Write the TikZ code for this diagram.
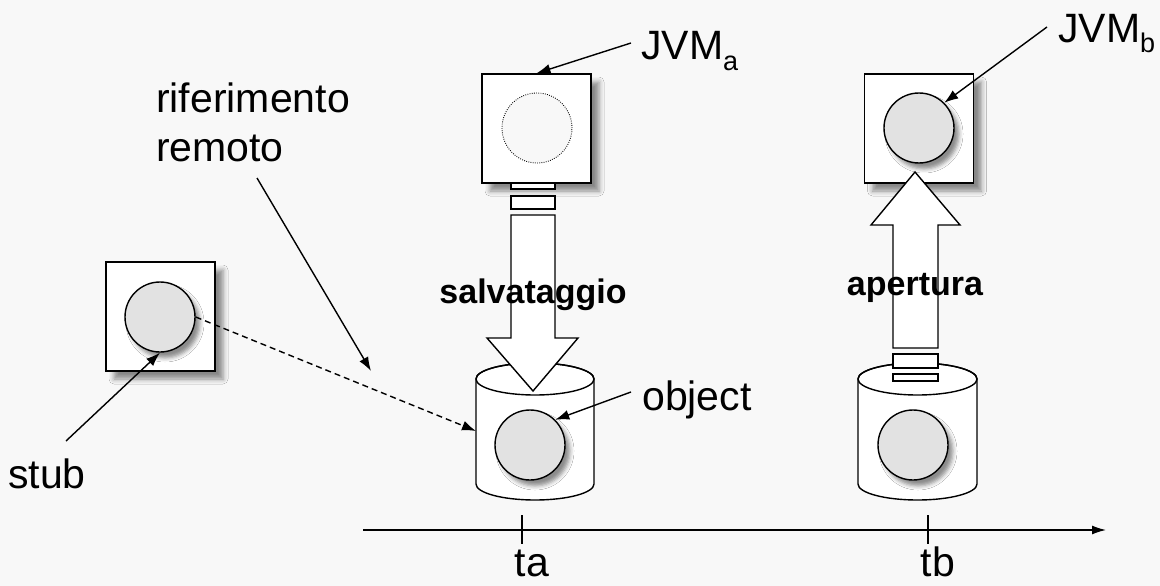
\documentclass[tikz,border=0pt]{standalone}
\usepackage{fontspec}
\setmainfont{Liberation Sans}
\usetikzlibrary{arrows.meta,shadows.blur}
\definecolor{bgcol}{HTML}{F8F8F8}
\definecolor{objfill}{HTML}{E2E2E2}
\newcommand\lblfont{\fontsize{41}{49}\selectfont}
\newcommand\boldlblfont{\fontsize{34}{40}\selectfont\bfseries}
\newcommand\subfont{\fontsize{27}{30}\selectfont}
\tikzset{
  line/.style={line width=1.4pt},
  vmbox/.style={line, draw=black, fill=white, minimum size=109pt, inner sep=0pt,
    blur shadow={shadow xshift=8pt, shadow yshift=-8pt, shadow blur radius=5pt, shadow opacity=45}},
  objcirc/.style={line, draw=black, fill=objfill, circle, minimum size=70pt, inner sep=0pt,
    blur shadow={shadow xshift=5pt, shadow yshift=-6pt, shadow blur radius=4pt, shadow opacity=45}},
  ghostcirc/.style={line width=0.9pt, draw=black, dash pattern=on 0.8pt off 1.4pt, fill=bgcol,
    circle, minimum size=70pt, inner sep=0pt},
  lbl/.style={font=\lblfont, inner sep=0pt},
  boldlbl/.style={font=\boldlblfont, inner sep=0pt},
  pointer/.style={line, -{Latex[length=14pt,width=10pt]}},
  blockarrow/.style={line, draw=black, fill=white, line join=miter},
  strip/.style={line, draw=black, fill=white},
  cyl/.style={line, draw=black, fill=white}
}
\begin{document}
\begin{tikzpicture}[x=1pt,y=-1pt]
  % canvas
  \fill[bgcol] (0,0) rectangle (1160,586);
  \useasboundingbox (0,0) rectangle (1160,586);

  % ---------- cylinders (stored object) ----------
  % cylinder at time ta
  \path[cyl] (476,379) -- (476,484) arc[start angle=180, end angle=0, x radius=59, y radius=16]
        -- (594,379) arc[start angle=360, end angle=180, x radius=59, y radius=16] -- cycle;
  \draw[line] (535,379) ellipse[x radius=59, y radius=16];
  \coordinate (cylAleft) at (476,431);
  % cylinder at time tb
  \path[cyl] (858,379) -- (858,484) arc[start angle=180, end angle=0, x radius=59.5, y radius=16]
        -- (977,379) arc[start angle=360, end angle=180, x radius=59.5, y radius=16] -- cycle;
  \draw[line] (917.5,379) ellipse[x radius=59.5, y radius=16];

  % ---------- virtual machine boxes ----------
  \node[vmbox] (stubbox) at (160.5,316.5) {};
  \node[vmbox] (boxA) at (536.5,128.5) {};
  \node[vmbox] (boxB) at (919,128.5) {};

  % ---------- objects ----------
  \node[objcirc] (stubobj) at (160,317) {};
  \node[ghostcirc] (oldobj) at (537,128) {};
  \node[objcirc] (objB) at (919,128) {};
  \node[objcirc] (storedA) at (530,445) {};
  \node[objcirc] (storedB) at (913,445) {};

  % ---------- salvataggio: box A -> cylinder ----------
  \draw[strip] (511,183) rectangle (555,189);
  \draw[strip] (511,196) rectangle (555,209);
  \draw[blockarrow] (511,215) -- (555,215) -- (555,338) -- (578,338) -- (533,391)
        -- (487,338) -- (511,338) -- cycle;
  \node[boldlbl, anchor=base] (salv) at (533,303) {salvataggio};

  % ---------- apertura: cylinder -> box B ----------
  \draw[blockarrow] (893,348) -- (893,225) -- (871,225) -- (915,172) -- (960,225)
        -- (938,225) -- (938,348) -- cycle;
  \draw[strip] (893,354) rectangle (938,368);
  \draw[strip] (893,374) rectangle (938,381);
  \node[boldlbl, anchor=base] (aper) at (915,295) {apertura};

  % ---------- labels ----------
  \node[lbl, anchor=base west] (jvma) at (641,60) {JVM\raisebox{-10pt}{\subfont a}};
  \node[lbl, anchor=base west] (jvmb) at (1058,43) {JVM\raisebox{-10pt}{\subfont b}};
  \node[lbl, anchor=base west] (objlbl) at (642,410) {object};
  \node[lbl, anchor=base west] (stublbl) at (8,488) {stub};
  \node[lbl, anchor=north west, align=left] (riflbl) at (156,83) {riferimento\\remoto};

  % ---------- pointers ----------
  \coordinate (jvmaFrom) at (631,43);
  \coordinate (jvmbFrom) at (1047,27);
  \coordinate (objFrom) at (631,392);
  \coordinate (stubFrom) at (66,441);
  \coordinate (rifFrom) at (257,178);
  \coordinate (rifTo) at (371,371);
  \draw[pointer] (jvmaFrom) -- (boxA.north);
  \draw[pointer] (jvmbFrom) -- (objB.north east);
  \draw[pointer] (objFrom) -- (storedA.north east);
  \draw[pointer] (stubFrom) -- (stubobj.south);
  \draw[pointer] (rifFrom) -- (rifTo);
  \draw[line, dash pattern=on 6pt off 4pt, -{Latex[length=14pt,width=10pt]}] (stubobj.east) -- (cylAleft);

  % ---------- time axis ----------
  \coordinate (axStart) at (363,530);
  \coordinate (axEnd) at (1106,530);
  \draw[line, -{Latex[length=14pt,width=9pt]}] (axStart) -- (axEnd);
  \draw[line] (522,515) -- (522,544);
  \draw[line] (928,515) -- (928,544);
  \node[lbl, anchor=base] (ta) at (532,576) {ta};
  \node[lbl, anchor=base] (tb) at (938,576) {tb};
\end{tikzpicture}
\end{document}
